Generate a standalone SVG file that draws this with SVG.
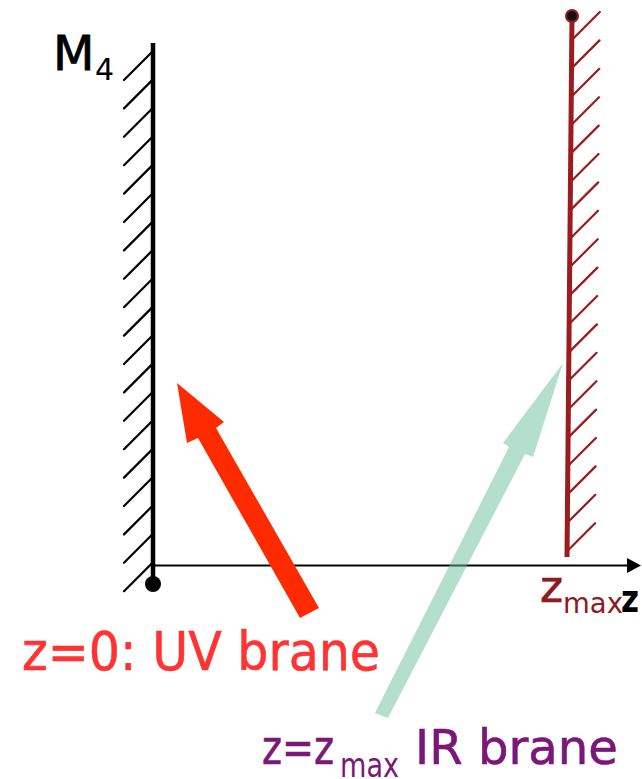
<svg xmlns="http://www.w3.org/2000/svg" width="642" height="779" viewBox="0 0 642 779">
<style>
  text { font-family: "Comic Sans MS", "DejaVu Sans", sans-serif; }
  .hatchK { stroke: #000; stroke-width: 2.2; fill: none; stroke-linecap: round; }
  .hatchR { stroke: #9b1b1f; stroke-width: 2.2; fill: none; stroke-linecap: round; }
</style>
<rect width="642" height="779" fill="#ffffff"/>

<g id="uv-brane">
  <path class="hatchK" d="M152,52 L124,80 M152,80.4 L124,108.4 M152,108.8 L124,136.8 M152,137.2 L124,165.2 M152,165.6 L124,193.6 M152,194 L124,222 M152,222.4 L124,250.4 M152,250.8 L124,278.8 M152,279.2 L124,307.2 M152,307.6 L124,335.6 M152,336 L124,364 M152,364.4 L124,392.4 M152,392.8 L124,420.8 M152,421.2 L124,449.2 M152,449.6 L124,477.6 M152,478 L124,506 M152,506.4 L124,534.4 M152,534.8 L124,562.8 M152,563.2 L124,591.2"/>
  <line x1="153" y1="43" x2="153" y2="584" stroke="#000" stroke-width="4.5"/>
  <circle cx="153" cy="584" r="8" fill="#000"/>
</g>

<g id="ir-brane">
  <path class="hatchR" d="M572.8,39 L599.8,12 M572.5,67.4 L599.5,40.4 M572.3,95.8 L599.3,68.8 M572,124.2 L599,97.2 M571.7,152.6 L598.7,125.6 M571.5,181 L598.5,154 M571.2,209.4 L598.2,182.4 M571,237.8 L598,210.8 M570.7,266.2 L597.7,239.2 M570.4,294.6 L597.4,267.6 M570.2,323 L597.2,296 M569.9,351.4 L596.9,324.4 M569.6,379.8 L596.6,352.8 M569.4,408.2 L596.4,381.2 M569.1,436.6 L596.1,409.6 M568.9,465 L595.9,438 M568.6,493.4 L595.6,466.4 M568.3,521.8 L595.3,494.8 M568.1,550.2 L595.1,523.2"/>
  <line x1="572" y1="16" x2="567" y2="557" stroke="#9b1b1f" stroke-width="5"/>
  <circle cx="572" cy="16" r="6" fill="#111" stroke="#9b1b1f" stroke-width="2"/>
</g>

<g id="z-axis">
  <line x1="153" y1="565.5" x2="630" y2="565.5" stroke="#000" stroke-width="2"/>
  <polygon points="627,558 641,565.5 627,573" fill="#000"/>
</g>

<g id="label-m4">
  <text x="53" y="70" font-size="48" fill="#000" stroke="#000" stroke-width="0.8">M</text>
  <text x="95" y="80" font-size="30" fill="#000">4</text>
</g>

<g id="label-zmax-axis">
  <text x="540" y="602" font-size="44" fill="#8f1a1f" stroke="#8f1a1f" stroke-width="0.6">z</text>
  <text x="563" y="613" font-size="28" fill="#8f1a1f" textLength="60" lengthAdjust="spacingAndGlyphs">max</text>
  <text x="621" y="612" font-size="38" font-weight="bold" fill="#000" textLength="18" lengthAdjust="spacingAndGlyphs">z</text>
</g>

<g id="arrows">
  <polygon points="177,383 224,422 216,428 319,608 300,618 198,438 187,443" fill="#ff2b00"/>
  <polygon points="563,363 533,457 525,454 388,718 375,713 509,447 503,443" fill="#6bc09c" fill-opacity="0.5"/>
</g>

<g id="label-uv">
  <text x="22" y="670" font-size="53" fill="#ff3333" stroke="#ff3333" stroke-width="0.6" textLength="358" lengthAdjust="spacingAndGlyphs">z=0: UV brane</text>
</g>

<g id="label-ir">
  <text x="262" y="764" font-size="48" fill="#7b1778" stroke="#7b1778" stroke-width="0.6" textLength="72" lengthAdjust="spacingAndGlyphs">z=z</text>
  <text x="340" y="777" font-size="34" fill="#7b1778" textLength="59" lengthAdjust="spacingAndGlyphs">max</text>
  <text x="415" y="764" font-size="48" fill="#7b1778" stroke="#7b1778" stroke-width="0.6" textLength="203" lengthAdjust="spacingAndGlyphs">IR brane</text>
</g>
</svg>
